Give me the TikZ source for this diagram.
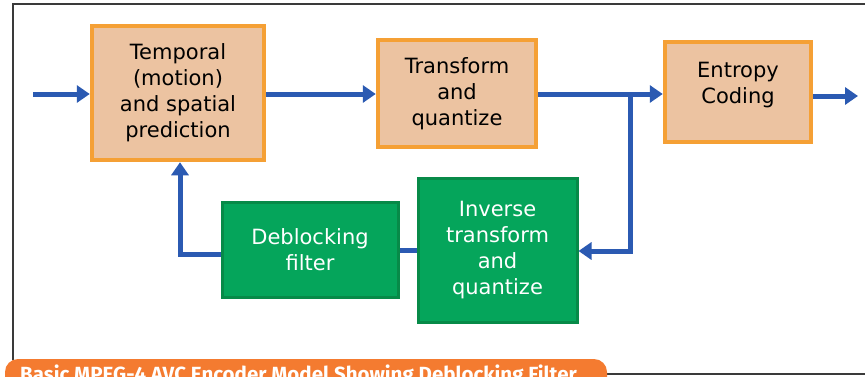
\documentclass[tikz,border=0pt]{standalone}
\usepackage{fontspec}
\setmainfont{DejaVu Sans}
\newfontfamily\capfont{Fira Sans}
\usetikzlibrary{arrows.meta}
\definecolor{boxfill}{HTML}{ECC3A1}
\definecolor{boxedge}{HTML}{F5A035}
\definecolor{greenfill}{HTML}{05A55B}
\definecolor{greenedge}{HTML}{078A48}
\definecolor{flow}{HTML}{2B5AB2}
\definecolor{tabfill}{HTML}{F47B30}
\definecolor{framecol}{HTML}{3A3A3A}
\tikzset{
  x=1pt, y=-1pt,
  stagefont/.style={font=\fontsize{21}{26}\selectfont},
  stage/.style={draw=boxedge, line width=4.5pt, fill=boxfill, inner sep=0pt,
    align=center, stagefont, text=black},
  invstage/.style={draw=greenedge, line width=3pt, fill=greenfill, inner sep=0pt,
    align=center, stagefont, text=white},
  flowline/.style={draw=flow, line width=5pt},
  flowarrow/.style={flowline, -{Triangle[length=13pt,width=17pt]}},
}
\begin{document}
\begin{tikzpicture}
\useasboundingbox (0,0) rectangle (865,376);
\clip (0,0) rectangle (865,376);
\fill[white] (0,0) rectangle (865,376);

% outer frame
\draw[framecol, line width=1.6pt] (13,360) -- (13,4) -- (870,4);
\draw[framecol, line width=2pt] (600,374) -- (870,374);

% processing stages
\node[stage, minimum width=172pt, minimum height=134pt] (pred) at (178,93)
  {Temporal\\(motion)\\and spatial\\prediction};
\node[stage, minimum width=158pt, minimum height=107pt] (tq) at (457,93.5)
  {Transform\\and\\quantize};
\node[stage, minimum width=146pt, minimum height=100pt] (ent) at (738,92) {};
\node[stagefont, align=center] (entlbl) at (738,85.5)
  {Entropy\\Coding};
\node[invstage, minimum width=176pt, minimum height=95pt] (deb) at (310,249.5)
  {Deblocking\\filter};
\node[invstage, minimum width=159pt, minimum height=144pt] (inv) at (497.5,250.5)
  {Inverse\\transform\\and\\quantize};

% connectors
\coordinate (src) at (33,94);
\coordinate (sink) at (858,96);
\coordinate (split) at (630,94);
\draw[flowarrow] (src) -- (pred.west |- src);
\draw[flowarrow] (pred.east |- src) -- (tq.west |- src);
\draw[flowline] (tq.east |- split) -- (split);
\draw[flowarrow] (split) -- (ent.west |- split);
\draw[flowarrow] (ent.east |- sink) -- (sink);
\draw[flowarrow] (split) -- (630,251) -- (inv.east |- 0,251);
\draw[flowline] (inv.west |- 0,250) -- (deb.east |- 0,250);
\draw[flowarrow] (deb.west |- 0,254) -- (180,254) -- (pred.south -| 180,0);

% caption tab
\fill[tabfill, rounded corners=13pt] (5,400) -- (5,359) -- (607,359) -- (607,400) -- cycle;
\node[anchor=base west, inner sep=0pt, text=white, font=\capfont\bfseries\fontsize{20.5}{22}\selectfont] (cap) at (20,381)
  {Basic MPEG-4 AVC Encoder Model Showing Deblocking Filter};
\end{tikzpicture}
\end{document}
